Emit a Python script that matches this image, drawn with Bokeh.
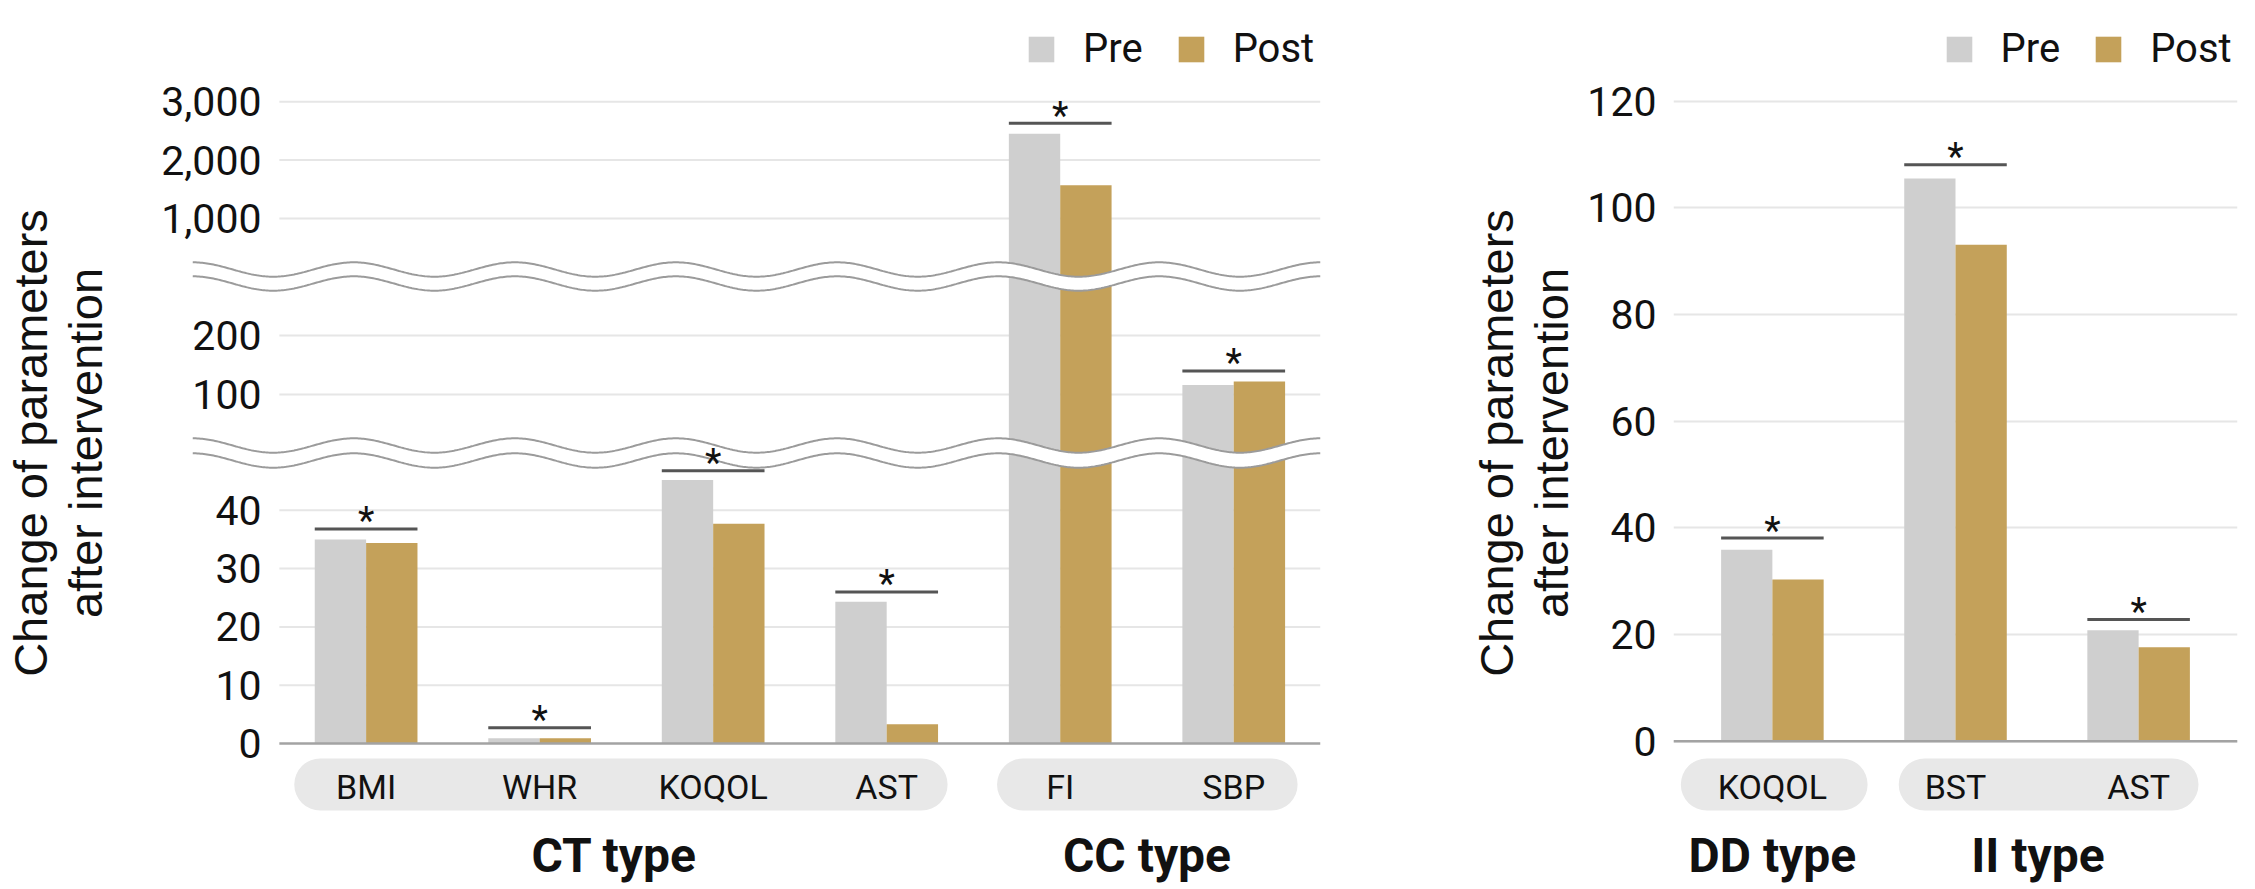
import numpy as np
from bokeh.plotting import figure
from bokeh.models import Range1d, FixedTicker, Legend, LegendItem, ColumnDataSource
from bokeh.layouts import row
from bokeh.embed import file_html
from bokeh.resources import INLINE
from bokeh.core.properties import value

# ---------------- data ----------------
series = ["Pre", "Post"]
sig_mark = "*"

left_categories = ["BMI", "WHR", "KOQOL", "AST", "FI", "SBP"]
left_groups = ["CT type", "CC type"]
left_group_sizes = [4, 2]
left_pre = [35.0, 0.9, 45.2, 24.3, 2450, 116]
left_post = [34.4, 0.9, 37.7, 3.3, 1570, 122]
left_sig_level = [36.8, 2.7, 46.8, 26.0, 2630, 140]
left_ticks = [0, 10, 20, 30, 40, 100, 200, 1000, 2000, 3000]

right_categories = ["KOQOL", "BST", "AST"]
right_groups = ["DD type", "II type"]
right_group_sizes = [1, 2]
right_pre = [35.9, 105.5, 20.8]
right_post = [30.3, 93.1, 17.6]
right_sig_level = [38.1, 108.1, 22.8]
right_ticks = [0, 20, 40, 60, 80, 100, 120]

# ---------------- styles ----------------
PRE_C, POST_C = "#cfcfcf", "#c4a15a"
PILL_C, GRID_C, BASE_C = "#e8e8e8", "#e6e6e6", "#a3a3a3"
SIG_C, WAVE_C, TXT = "#555555", "#9b9b9b", "#111111"
FONT = "Roboto"
TITLE_FONT = "Liberation Sans"
H = 885

# broken scale of left panel: value -> px above zero line
SEGMENTS = [  # (upper limit, anchor value, px at anchor, px per unit)
    (50, 0, 0.0, 5.83),
    (300, 100, 349.0, 0.59),
    (1e12, 1000, 525.0, 0.0584),
]


def broken(v):
    for lim, v0, h0, k in SEGMENTS:
        if v <= lim:
            return h0 + (v - v0) * k


def group_spans(sizes):
    out, s = [], 0
    for n in sizes:
        out.append((s, s + n - 1))
        s += n
    return out


def style_yaxis(p, standoff, label_standoff):
    ax = p.yaxis[0]
    ax.axis_line_color = None
    ax.major_tick_line_color = None
    ax.minor_tick_line_color = None
    ax.major_tick_out = 0
    ax.major_tick_in = 0
    ax.major_label_text_font = FONT
    ax.major_label_text_font_size = "41px"
    ax.major_label_text_color = TXT
    ax.major_label_standoff = standoff
    ax.axis_label = "Change of parameters\nafter intervention"
    ax.axis_label_text_font = TITLE_FONT
    ax.axis_label_text_font_size = "47px"
    ax.axis_label_text_font_style = "normal"
    ax.axis_label_text_line_height = 1.05
    ax.axis_label_text_color = TXT
    ax.axis_label_standoff = label_standoff


def add_legend(p, r_pre, r_post, loc):
    leg = Legend(items=[LegendItem(label=series[0], renderers=[r_pre]),
                        LegendItem(label=series[1], renderers=[r_post])],
                 orientation="horizontal", location=loc, padding=0, margin=0,
                 spacing=32, label_standoff=26, glyph_width=32, glyph_height=32,
                 label_text_font=FONT, label_text_font_size="40px", label_text_color=TXT,
                 border_line_color=None, background_fill_alpha=0)
    p.add_layout(leg)


def add_texts(p, centers, cats, groups, sizes, pill_pad, pill_y, label_y, title_y, title_shift):
    spans = group_spans(sizes)
    p.quad(left=[centers[a] - pill_pad[i][0] for i, (a, b) in enumerate(spans)],
           right=[centers[b] + pill_pad[i][1] for i, (a, b) in enumerate(spans)],
           bottom=pill_y[0], top=pill_y[1], fill_color=PILL_C, line_color=None,
           border_radius=26, level="underlay")
    p.text(x=centers, y=[label_y] * len(cats), text=cats, text_font=value(FONT),
           text_font_size="34px", text_align="center", text_baseline="middle", text_color=TXT)
    tx = [(centers[a] + centers[b]) / 2 + title_shift[i] for i, (a, b) in enumerate(spans)]
    p.text(x=tx, y=[title_y] * len(groups), text=groups, text_font=value(FONT),
           text_font_size="48px", text_font_style="bold", text_align="center",
           text_baseline="middle", text_color=TXT)


def add_sig(p, centers, levels, half):
    p.segment(x0=[c - half for c in centers], x1=[c + half for c in centers], y0=levels, y1=levels,
              line_color=SIG_C, line_width=3)
    p.text(x=centers, y=levels, text=[sig_mark] * len(centers), text_font=value(FONT),
           text_font_size="38px", text_align="center", text_baseline="middle", y_offset=-7.5,
           text_color=TXT)


# ================= left panel (broken axis) =================
BW_L = 0.296
XL0 = -0.5005
p1 = figure(width=1400, height=H, x_range=Range1d(XL0, 6.0), y_range=Range1d(743 - H, 743),
            output_backend="svg", toolbar_location=None, x_axis_location=None,
            min_border_left=190, min_border_right=80, min_border_top=0, min_border_bottom=0)
p1.outline_line_color = None
p1.xgrid.visible = False
p1.ygrid.visible = False

cL = [i + 0.5 for i in range(len(left_categories))]
tick_pos = [round(broken(t), 3) for t in left_ticks]
p1.yaxis.ticker = FixedTicker(ticks=tick_pos)
p1.yaxis.major_label_overrides = {pos: f"{t:,}" for pos, t in zip(tick_pos, left_ticks)}
style_yaxis(p1, -69, 46)

# gridlines (start at first category's edge)
p1.segment(x0=[0] * (len(tick_pos) - 1), x1=[6] * (len(tick_pos) - 1), y0=tick_pos[1:], y1=tick_pos[1:],
           line_color=GRID_C, line_width=2)

srcL = ColumnDataSource(dict(
    xpre=[c - BW_L / 2 for c in cL], xpost=[c + BW_L / 2 for c in cL],
    pre=[broken(v) for v in left_pre], post=[broken(v) for v in left_post]))
rp1 = p1.vbar(x="xpre", top="pre", bottom=0, width=BW_L, source=srcL, fill_color=PRE_C, line_color=None)
rq1 = p1.vbar(x="xpost", top="post", bottom=0, width=BW_L, source=srcL, fill_color=POST_C, line_color=None)
p1.segment(x0=[0], x1=[6], y0=[0], y1=[0], line_color=BASE_C, line_width=2.5)

# axis-break marks
xw = np.linspace(XL0, 6.0, 700)
phase = (xw - XL0) * 173.83 / 161.43
for up_c, lo_c in [(474.0, 460.0), (298.0, 283.0)]:
    up = up_c + 7.2 * np.cos(2 * np.pi * phase)
    lo = lo_c + 7.2 * np.cos(2 * np.pi * phase)
    p1.patch(np.concatenate([xw, xw[::-1]]), np.concatenate([up, lo[::-1]]),
             fill_color="white", line_color=None)
    p1.line(xw, up, line_color=WAVE_C, line_width=2)
    p1.line(xw, lo, line_color=WAVE_C, line_width=2)

add_sig(p1, cL, [broken(v) for v in left_sig_level], BW_L)
add_texts(p1, cL, left_categories, left_groups, left_group_sizes,
          pill_pad=[(0.414, 0.351), (0.364, 0.368)], pill_y=(-67, -15), label_y=-43.5,
          title_y=-112, title_shift=[-0.07, 0.0])
add_legend(p1, rp1, rq1, (833, H - 72))

# ================= right panel =================
BW_R = 0.28
K_R = 640.0 / 120.0  # px per unit
p2 = figure(width=850, height=H, x_range=Range1d(-0.04, 3.04),
            y_range=Range1d((740.7 - H) / K_R, 740.7 / K_R),
            output_backend="svg", toolbar_location=None, x_axis_location=None,
            min_border_left=273, min_border_right=13, min_border_top=0, min_border_bottom=0)
p2.outline_line_color = None
p2.xgrid.visible = False
p2.yaxis.ticker = FixedTicker(ticks=right_ticks)
p2.ygrid.grid_line_color = GRID_C
p2.ygrid.grid_line_width = 2
style_yaxis(p2, 17, 6)

cR = [i + 0.5 for i in range(len(right_categories))]
srcR = ColumnDataSource(dict(
    xpre=[c - BW_R / 2 for c in cR], xpost=[c + BW_R / 2 for c in cR],
    pre=right_pre, post=right_post))
rp2 = p2.vbar(x="xpre", top="pre", bottom=0, width=BW_R, source=srcR, fill_color=PRE_C, line_color=None)
rq2 = p2.vbar(x="xpost", top="post", bottom=0, width=BW_R, source=srcR, fill_color=POST_C, line_color=None)
p2.segment(x0=[-0.04], x1=[3.04], y0=[0], y1=[0], line_color=BASE_C, line_width=2.5)

add_sig(p2, cR, right_sig_level, BW_R)
add_texts(p2, cR, right_categories, right_groups, right_group_sizes,
          pill_pad=[(0.50, 0.52), (0.31, 0.327)],
          pill_y=((740.7 - 810) / K_R, (740.7 - 758) / K_R),
          label_y=(740.7 - 786.5) / K_R, title_y=(740.7 - 855) / K_R, title_shift=[0.0, -0.05])
add_legend(p2, rp2, rq2, (269.5, H - 72))

layout = row(p1, p2)
open("out.html", "w").write(file_html(layout, INLINE))
